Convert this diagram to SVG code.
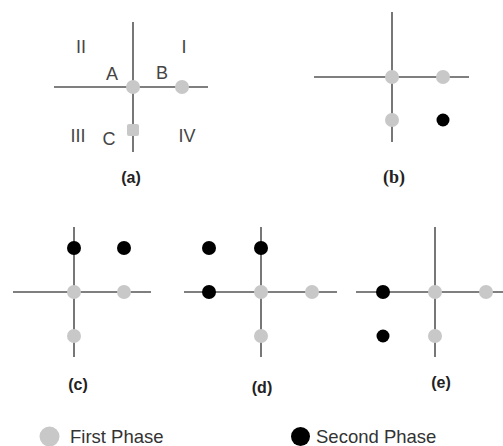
<svg xmlns="http://www.w3.org/2000/svg" width="503" height="446" viewBox="0 0 503 446">
<style>
.ax{stroke:#555;stroke-width:1.6;fill:none}
.g{fill:#c8c8c8}
.k{fill:#000}
.lb{font-family:"Liberation Sans",Arial,sans-serif;font-size:18px;fill:#444;text-anchor:middle}
.cap{font-family:"Liberation Sans",Arial,sans-serif;font-size:16px;font-weight:bold;fill:#222;text-anchor:middle}
.capS{font-family:"Liberation Serif","Times New Roman",serif;font-size:18px;font-weight:bold;fill:#222;text-anchor:middle}
.lg{font-family:"Liberation Sans",Arial,sans-serif;font-size:18.5px;fill:#333}
</style>
<rect width="503" height="446" fill="#fff"/>
<g id="connectors">
<line class="ax" x1="133" y1="22" x2="133" y2="152"/>
<line class="ax" x1="54" y1="87" x2="208" y2="87"/>
<line class="ax" x1="392" y1="12" x2="392" y2="142"/>
<line class="ax" x1="314" y1="77" x2="469" y2="77"/>
<line class="ax" x1="74" y1="227" x2="74" y2="357"/>
<line class="ax" x1="13" y1="292" x2="151" y2="292"/>
<line class="ax" x1="261" y1="227" x2="261" y2="357"/>
<line class="ax" x1="184" y1="292" x2="337" y2="292"/>
<line class="ax" x1="435" y1="227" x2="435" y2="357"/>
<line class="ax" x1="356" y1="292" x2="503" y2="292"/>
</g>
<g id="panel-a">
<circle class="g" cx="133" cy="87" r="7"/>
<circle class="g" cx="182" cy="87" r="7"/>
<rect class="g" x="127" y="124" width="12" height="12" rx="2"/>
<text class="lb" x="81" y="53">II</text>
<text class="lb" x="184" y="53">I</text>
<text class="lb" x="112" y="80">A</text>
<text class="lb" x="162" y="79">B</text>
<text class="lb" x="78" y="142">III</text>
<text class="lb" x="109" y="145">C</text>
<text class="lb" x="187" y="142">IV</text>
<text class="cap" x="131" y="183">(a)</text>
</g>
<g id="panel-b">
<circle class="g" cx="392" cy="77" r="7"/>
<circle class="g" cx="443" cy="77" r="7"/>
<circle class="g" cx="392" cy="120" r="7"/>
<circle class="k" cx="443" cy="120" r="6.5"/>
<text class="capS" x="394" y="183">(b)</text>
</g>
<g id="panel-c">
<circle class="k" cx="74" cy="248" r="7"/>
<circle class="k" cx="124" cy="248" r="7"/>
<circle class="g" cx="74" cy="292" r="7"/>
<circle class="g" cx="124" cy="292" r="7"/>
<circle class="g" cx="74" cy="336" r="7"/>
<text class="cap" x="78" y="390">(c)</text>
</g>
<g id="panel-d">
<circle class="k" cx="209" cy="248" r="7"/>
<circle class="k" cx="261" cy="248" r="7"/>
<circle class="k" cx="209" cy="292" r="7"/>
<circle class="g" cx="261" cy="292" r="7"/>
<circle class="g" cx="312" cy="292" r="7"/>
<circle class="g" cx="261" cy="336" r="7"/>
<text class="cap" x="262" y="393">(d)</text>
</g>
<g id="panel-e">
<circle class="k" cx="383" cy="292" r="7"/>
<circle class="k" cx="383" cy="336" r="6.5"/>
<circle class="g" cx="435" cy="292" r="7"/>
<circle class="g" cx="486" cy="292" r="7"/>
<circle class="g" cx="435" cy="336" r="7"/>
<text class="cap" x="441" y="388">(e)</text>
</g>
<g id="legend">
<circle class="g" cx="49.5" cy="436.5" r="10"/>
<text class="lg" x="70" y="443">First Phase</text>
<circle class="k" cx="300.5" cy="436.5" r="9.5"/>
<text class="lg" x="316" y="443">Second Phase</text>
</g>
</svg>
